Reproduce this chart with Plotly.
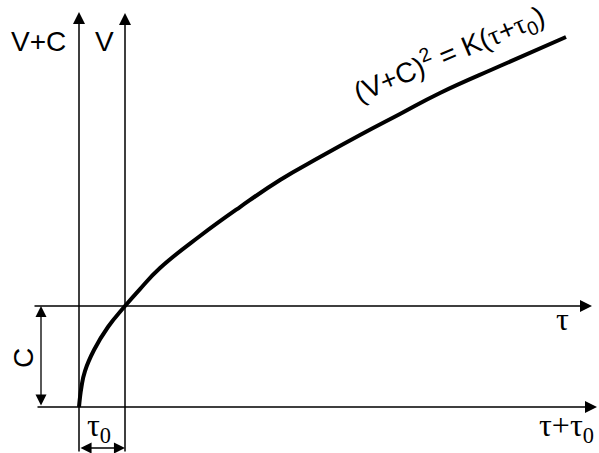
import plotly.graph_objects as go

# Curve (V+C)^2 = K(tau+tau0), in units where tau0 = 1 and C = 1
tau_plus_tau0 = [0.0, 0.054, 0.130, 0.326, 0.630, 1.0, 1.326, 1.761, 2.630, 3.500,
                 4.370, 5.239, 6.109, 6.978, 7.848, 9.152, 10.587]
v_plus_c = [0.0, 0.200, 0.356, 0.564, 0.792, 1.0, 1.168, 1.376, 1.693, 1.980,
            2.248, 2.475, 2.693, 2.901, 3.109, 3.376, 3.663]

tau0 = 1.0   # offset between the two vertical axes
C = 1.0      # offset between the two horizontal axes

SANS = "Liberation Sans, Arial, sans-serif"
SERIF = "Liberation Serif, Times New Roman, serif"

fig = go.Figure()

fig.add_trace(go.Scatter(
    x=tau_plus_tau0, y=v_plus_c, mode="lines",
    line=dict(color="black", width=4, shape="spline", smoothing=1.3),
    hoverinfo="skip", showlegend=False,
))

x_range = [-1.7174, 11.3043]
y_range = [-0.4554, 4.0297]


def arrow(x0, y0, x1, y1, both=False, width=1.5, size=1.6):
    fig.add_annotation(
        x=x1, y=y1, ax=x0, ay=y0, xref="x", yref="y", axref="x", ayref="y",
        text="", showarrow=True, arrowhead=2, arrowsize=size, arrowwidth=width,
        arrowcolor="black", standoff=0, startstandoff=0,
        arrowside="end+start" if both else "end", startarrowhead=2,
        startarrowsize=size,
    )


# axes
arrow(0, y_range[0], 0, 3.911)            # V+C axis
arrow(tau0, y_range[0], tau0, 3.901)      # V axis
arrow(-1.0, C, 11.152, C)                 # tau axis
arrow(-0.935, 0, 11.261, 0)               # tau+tau0 axis

# dimension arrows for C and tau0
arrow(-0.826, 0, -0.826, C, both=True, width=1.3, size=1.7)
arrow(0, -0.406, tau0, -0.406, both=True, width=1.3, size=1.7)


def label(x, y, text, family, size, angle=0):
    fig.add_annotation(x=x, y=y, xref="x", yref="y", text=text, showarrow=False,
                       font=dict(family=family, size=size, color="black"),
                       textangle=angle, xanchor="center", yanchor="middle")


label(-0.870, 3.62, "V+C", SANS, 28)
label(0.565, 3.62, "V", SANS, 28)
label(-1.22, 0.485, "C", SANS, 28, angle=-90)
label(0.435, -0.20, "τ<sub>0</sub>", SERIF, 32)
label(10.5, 0.87, "τ", SERIF, 32)
label(10.587, -0.20, "τ+τ<sub>0</sub>", SERIF, 32)

tau_span = '<span style="font-family:Liberation Serif, serif">τ</span>'
label(8.04, 3.50,
      f"(V+C)<sup>2</sup> = K({tau_span}+{tau_span}<sub>0</sub>)", SANS, 28, angle=-23)

fig.update_layout(
    width=599, height=453, margin=dict(l=0, r=0, t=0, b=0),
    paper_bgcolor="white", plot_bgcolor="white",
    xaxis=dict(range=x_range, visible=False, fixedrange=True),
    yaxis=dict(range=y_range, visible=False, fixedrange=True),
)

fig.write_html("out.html")
